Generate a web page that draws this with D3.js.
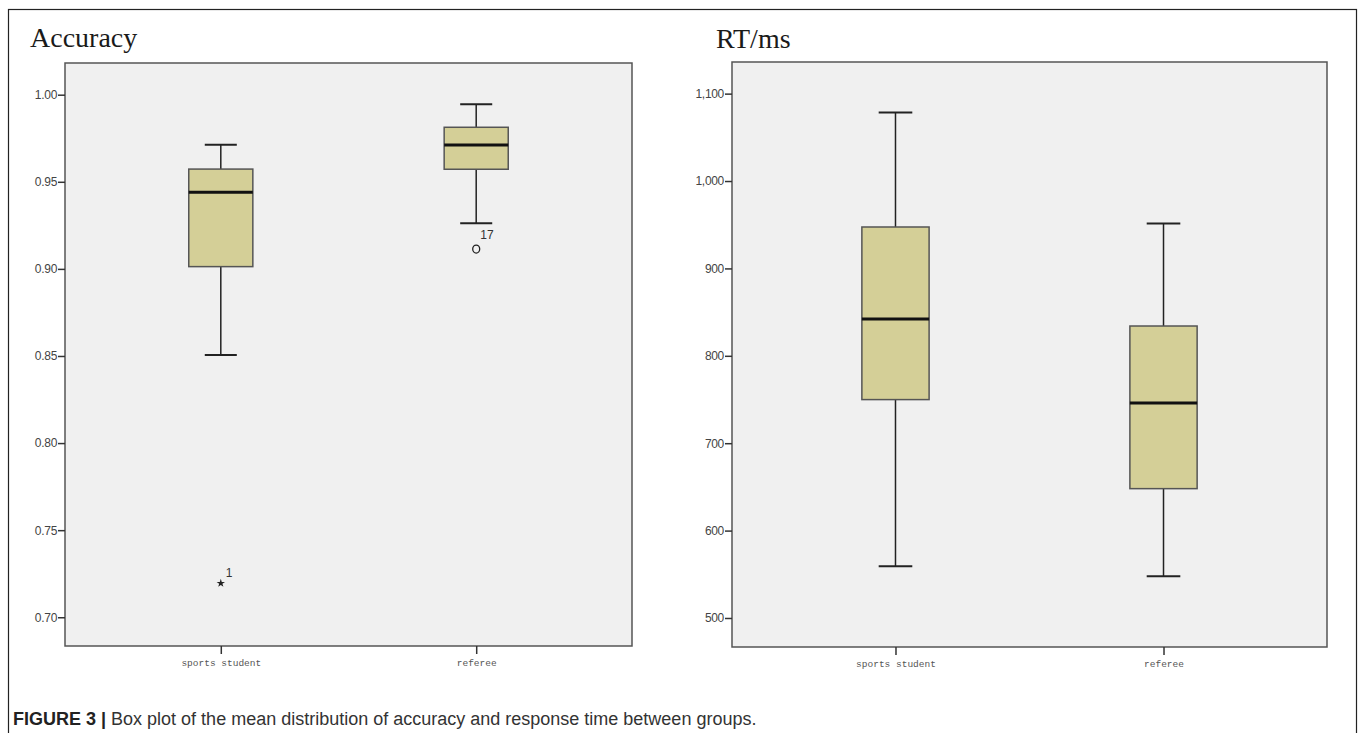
<!DOCTYPE html>
<meta charset="utf-8">
<style>
body { margin: 0; background: #fff; }
svg { display: block; }
.y-axis .tick text { font-family: "Liberation Sans", Arial, sans-serif; fill: #444; }
.x-axis .tick text { font-family: "Liberation Mono", "DejaVu Sans Mono", monospace; fill: #555; }
</style>
<svg width="1358" height="733"></svg>
<script src="https://d3js.org/d3.v7.min.js"></script>
<script>

// categories
var groups = ["sports student", "referee"];

// box stats per group: [lower whisker, Q1, median, Q3, upper whisker]
var accuracyBoxes = [
  [0.8506, 0.9013, 0.9440, 0.9573, 0.9713],
  [0.9262, 0.9572, 0.9711, 0.9813, 0.9945]
];
var rtBoxes = [
  [559.2, 749.9, 842.1, 947.4, 1078.3],
  [547.7, 648.0, 746.0, 834.1, 951.3]
];

// outliers
var accuracyOutliers = [
  {group: "sports student", value: 0.7195, label: "1", shape: "star"},
  {group: "referee", value: 0.9114, label: "17", shape: "circle"}
];
var rtOutliers = [];

// tick labels
var accuracyTicks = [0.70, 0.75, 0.80, 0.85, 0.90, 0.95, 1.00];
var rtTicks = [500, 600, 700, 800, 900, 1000, 1100];

var svg = d3.select("svg");

// outer frame
svg.append("rect")
  .attr("x", 8.5).attr("y", 9.5)
  .attr("width", 1348).attr("height", 740)
  .attr("fill", "none")
  .attr("stroke", "#222")
  .attr("stroke-width", 1.2);

var panels = [
  {title: "Accuracy", titleX: 30, titleY: 47, left: 65, top: 63, right: 632, bottom: 646,
   domain: [0.6835, 1.0182], boxes: accuracyBoxes, outliers: accuracyOutliers,
   ticks: accuracyTicks, fmt: d3.format(".2f")},
  {title: "RT/ms", titleX: 716, titleY: 48, left: 732, top: 62, right: 1327, bottom: 647,
   domain: [466.8, 1136.2], boxes: rtBoxes, outliers: rtOutliers,
   ticks: rtTicks, fmt: d3.format(",")}
];

panels.forEach(function(p) {
  var x = d3.scalePoint()
    .domain(groups)
    .range([p.left, p.right])
    .padding(0.61);

  var y = d3.scaleLinear()
    .domain(p.domain)
    .range([p.bottom, p.top]);

  var boxW = (p.right - p.left) * 0.113;

  svg.append("text")
    .attr("x", p.titleX).attr("y", p.titleY)
    .attr("font-family", "Liberation Serif, Times New Roman, serif")
    .attr("font-size", 28)
    .attr("fill", "#1a1a1a")
    .text(p.title);

  svg.append("rect")
    .attr("x", p.left).attr("y", p.top)
    .attr("width", p.right - p.left).attr("height", p.bottom - p.top)
    .attr("fill", "#f0f0f0")
    .attr("stroke", "#555")
    .attr("stroke-width", 1.5);

  svg.append("g")
    .attr("class", "y-axis")
    .attr("transform", "translate(" + p.left + ",0)")
    .call(d3.axisLeft(y).tickValues(p.ticks).tickFormat(p.fmt).tickSize(7).tickPadding(1))
    .call(function(g) {
      g.select(".domain").remove();
      g.selectAll(".tick line").attr("stroke", "#333").attr("stroke-width", 1.5);
      g.selectAll(".tick text").attr("font-size", 12).attr("letter-spacing", -0.3);
    });

  svg.append("g")
    .attr("class", "x-axis")
    .attr("transform", "translate(0," + p.bottom + ")")
    .call(d3.axisBottom(x).tickSize(8).tickPadding(5))
    .call(function(g) {
      g.select(".domain").remove();
      g.selectAll(".tick line").attr("stroke", "#333").attr("stroke-width", 1.5);
      g.selectAll(".tick text").attr("font-size", 9.5);
    });

  var box = svg.append("g").selectAll("g")
    .data(p.boxes)
    .join("g")
    .attr("transform", function(d, i) { return "translate(" + x(groups[i]) + ",0)"; });

  // whiskers
  box.append("line")
    .attr("x1", 0).attr("x2", 0)
    .attr("y1", function(d) { return y(d[0]); })
    .attr("y2", function(d) { return y(d[1]); })
    .attr("stroke", "#222").attr("stroke-width", 1.5);
  box.append("line")
    .attr("x1", 0).attr("x2", 0)
    .attr("y1", function(d) { return y(d[3]); })
    .attr("y2", function(d) { return y(d[4]); })
    .attr("stroke", "#222").attr("stroke-width", 1.5);
  [0, 4].forEach(function(k) {
    box.append("line")
      .attr("x1", -boxW / 4).attr("x2", boxW / 4)
      .attr("y1", function(d) { return y(d[k]); })
      .attr("y2", function(d) { return y(d[k]); })
      .attr("stroke", "#222").attr("stroke-width", 2);
  });

  box.append("rect")
    .attr("x", -boxW / 2)
    .attr("y", function(d) { return y(d[3]); })
    .attr("width", boxW)
    .attr("height", function(d) { return y(d[1]) - y(d[3]); })
    .attr("fill", "#d4cf97")
    .attr("stroke", "#555")
    .attr("stroke-width", 1.5);

  box.append("line")
    .attr("x1", -boxW / 2).attr("x2", boxW / 2)
    .attr("y1", function(d) { return y(d[2]); })
    .attr("y2", function(d) { return y(d[2]); })
    .attr("stroke", "#111").attr("stroke-width", 3);

  var out = svg.append("g").selectAll("g")
    .data(p.outliers)
    .join("g")
    .attr("transform", function(d) { return "translate(" + x(d.group) + "," + y(d.value) + ")"; });

  out.filter(function(d) { return d.shape === "star"; })
    .append("path")
    .attr("d", d3.symbol().type(d3.symbolStar).size(22))
    .attr("fill", "#222");

  out.filter(function(d) { return d.shape === "circle"; })
    .append("ellipse")
    .attr("rx", 3.5).attr("ry", 4)
    .attr("fill", "none")
    .attr("stroke", "#222")
    .attr("stroke-width", 1.3);

  out.append("text")
    .attr("x", function(d) { return d.shape === "star" ? 5 : 4; })
    .attr("y", function(d) { return d.shape === "star" ? -6 : -10; })
    .attr("font-family", "Liberation Sans, Arial, sans-serif")
    .attr("font-size", 12)
    .attr("fill", "#333")
    .text(function(d) { return d.label; });
});

// caption
var cap = svg.append("text")
  .attr("x", 13).attr("y", 725)
  .attr("font-family", "Liberation Sans, Arial, sans-serif")
  .attr("font-size", 18)
  .attr("fill", "#333");
cap.append("tspan").attr("font-weight", "bold").attr("fill", "#222").text("FIGURE 3 | ");
cap.append("tspan").text("Box plot of the mean distribution of accuracy and response time between groups.");

</script>
